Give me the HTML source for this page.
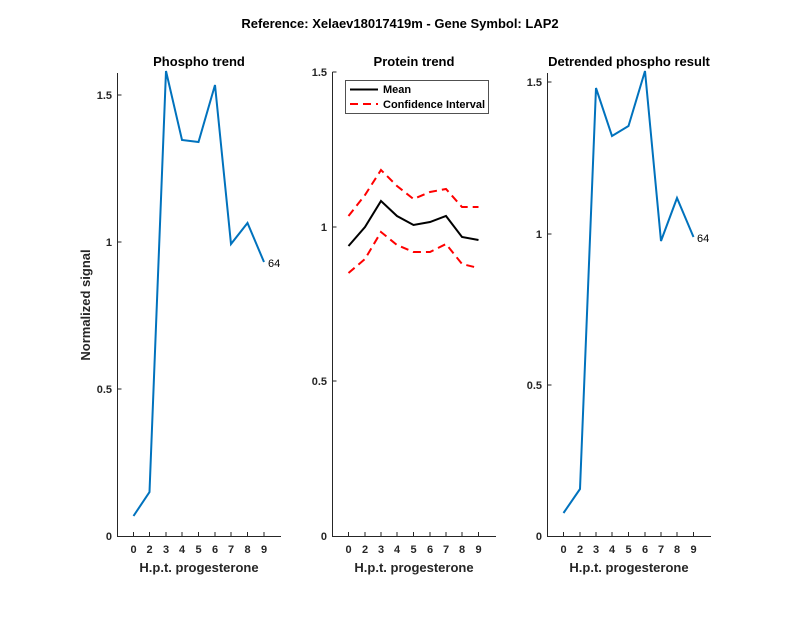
<!DOCTYPE html>
<html><head><meta charset="utf-8"><style>body{margin:0;background:#fff}svg{display:block;font-family:"Liberation Sans",sans-serif}</style></head><body>
<svg width="800" height="618" xmlns="http://www.w3.org/2000/svg">
<rect width="800" height="618" fill="#fff"/>
<text x="400" y="28" font-size="13" font-weight="bold" text-anchor="middle">Reference:  Xelaev18017419m - Gene Symbol:  LAP2</text>
<g stroke="#262626" stroke-width="1" fill="none">
<path d="M117.5 73V536.5H281"/>
<path d="M332.5 72V536.5H496"/>
<path d="M547.5 73V536.5H711"/>
</g>
<g stroke="#262626" stroke-width="1">
<path d="M133.5 536v-4M149.5 536v-4M166 536v-4M182 536v-4M198.5 536v-4M215 536v-4M231 536v-4M247.5 536v-4M264 536v-4"/>
<path d="M117.5 95h4M117.5 242h4M117.5 389h4"/>
<path d="M348.5 536v-4M365 536v-4M381 536v-4M397 536v-4M413.5 536v-4M430 536v-4M446 536v-4M462 536v-4M478.5 536v-4"/>
<path d="M332.5 72h4M332.5 227h4M332.5 381h4"/>
<path d="M563.5 536v-4M580 536v-4M596 536v-4M612 536v-4M628.5 536v-4M645 536v-4M661 536v-4M677 536v-4M693.5 536v-4"/>
<path d="M547.5 82h4M547.5 234h4M547.5 385h4"/>
</g>
<g font-size="11" fill="#262626" font-weight="bold">
<g text-anchor="middle">
<text x="133.5" y="553">0</text><text x="149.5" y="553">2</text><text x="166" y="553">3</text><text x="182" y="553">4</text><text x="198.5" y="553">5</text><text x="215" y="553">6</text><text x="231" y="553">7</text><text x="247.5" y="553">8</text><text x="264" y="553">9</text>
<text x="348.5" y="553">0</text><text x="365" y="553">2</text><text x="381" y="553">3</text><text x="397" y="553">4</text><text x="413.5" y="553">5</text><text x="430" y="553">6</text><text x="446" y="553">7</text><text x="462" y="553">8</text><text x="478.5" y="553">9</text>
<text x="563.5" y="553">0</text><text x="580" y="553">2</text><text x="596" y="553">3</text><text x="612" y="553">4</text><text x="628.5" y="553">5</text><text x="645" y="553">6</text><text x="661" y="553">7</text><text x="677" y="553">8</text><text x="693.5" y="553">9</text>
</g>
<g text-anchor="end">
<text x="112" y="99">1.5</text><text x="112" y="246">1</text><text x="112" y="393">0.5</text><text x="112" y="540">0</text>
<text x="327" y="76">1.5</text><text x="327" y="231">1</text><text x="327" y="385">0.5</text><text x="327" y="540">0</text>
<text x="542" y="86">1.5</text><text x="542" y="238">1</text><text x="542" y="389">0.5</text><text x="542" y="540">0</text>
</g>
</g>
<g font-size="13" font-weight="bold" fill="#262626" text-anchor="middle">
<text x="199" y="572">H.p.t. progesterone</text>
<text x="414" y="572">H.p.t. progesterone</text>
<text x="629" y="572">H.p.t. progesterone</text>
<text x="199" y="66" fill="#000">Phospho trend</text>
<text x="414" y="66" fill="#000">Protein trend</text>
<text x="629" y="66" fill="#000">Detrended phospho result</text>
<text transform="translate(90 305) rotate(-90)">Normalized signal</text>
</g>
<polyline fill="none" stroke="#0072BD" stroke-width="2" points="133.5,516 149.5,492 166,71 182,140 198.5,142 215,85 231,244 247.5,223 264,262"/>
<text x="268" y="267" font-size="11">64</text>
<polyline fill="none" stroke="#0072BD" stroke-width="2" points="563.5,513 580,489 596,88 612,136 628.5,126 645,71 661,241 677,198 693.5,237"/>
<text x="697" y="242" font-size="11">64</text>
<g fill="none" stroke-width="2">
<polyline stroke="#000" points="348.5,246 365,227 381,201 397,216 413.5,225 430,222 446,216 462,237 478.5,240"/>
<polyline stroke="#f00" stroke-dasharray="8,5" points="348.5,216 365,195 381,170 397,186 413.5,199 430,192 446,189 462,207 478.5,207"/>
<polyline stroke="#f00" stroke-dasharray="8,5" points="348.5,273 365,259 381,232 397,245 413.5,252 430,252 446,244 462,264 478.5,268"/>
</g>
<rect x="345.5" y="80.5" width="143" height="33" fill="#fff" stroke="#262626" stroke-width="0.8"/>
<path d="M350 89.5h28" stroke="#000" stroke-width="2"/>
<path d="M350 104h28" stroke="#f00" stroke-width="2" stroke-dasharray="8,5"/>
<text x="383" y="93" font-size="11" font-weight="bold">Mean</text>
<text x="383" y="108" font-size="11" font-weight="bold">Confidence Interval</text>
</svg>
</body></html>
